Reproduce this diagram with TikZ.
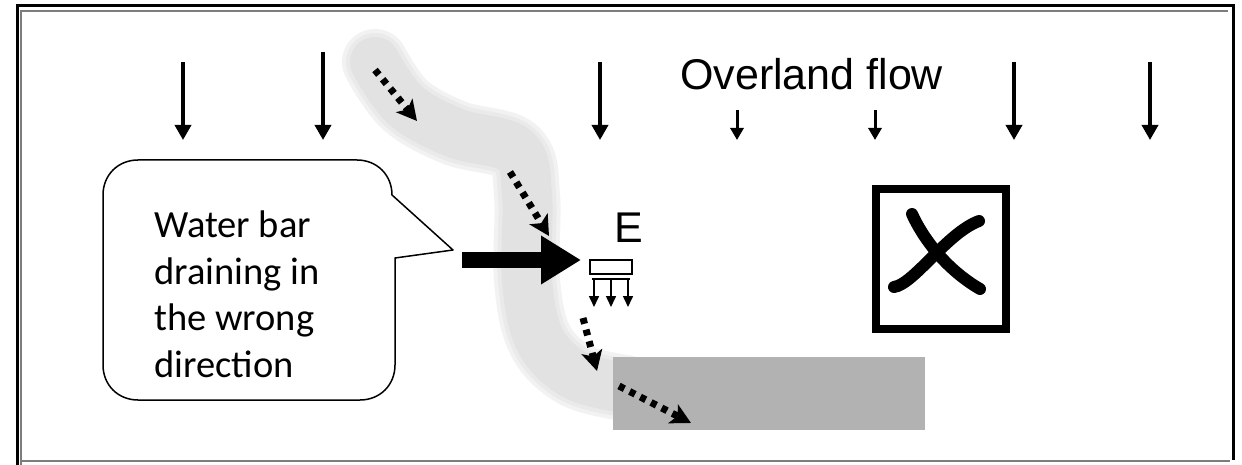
\documentclass[tikz,border=0pt]{standalone}
\usepackage{fontspec}
\setmainfont{Liberation Sans}
\newfontfamily\calloutfont{Carlito}
\usetikzlibrary{arrows.meta}

\definecolor{bandouter}{RGB}{242,242,242}
\definecolor{bandmid}{RGB}{234,234,234}
\definecolor{bandcore}{RGB}{226,226,226}
\definecolor{fieldgray}{RGB}{178,178,178}
\definecolor{framegray}{RGB}{125,125,125}

\begin{document}
\begin{tikzpicture}[x=1pt,y=-1pt,
  rain/.style={line width=3.5pt,-{Triangle[length=15pt,width=16pt]}},
  lightrain/.style={line width=3pt,-{Triangle[length=12pt,width=13pt]}},
  seep/.style={line width=7pt,dash pattern=on 6pt off 6pt,
    -{Stealth[length=20pt,width=21pt,inset=5pt]}},
  outlet/.style={line width=1.6pt,-{Triangle[length=11pt,width=10pt]}},
  push/.style={line width=16pt,-{Triangle[length=40pt,width=46pt]}},
  xstroke/.style={line width=12pt,line cap=round},
]
\useasboundingbox (0,0) rectangle (1242,465);

% page frame
\draw[line width=3pt] (17,465) -- (17,6) -- (1233,6) -- (1233,460);
\draw[framegray,line width=2pt] (21,465) -- (21,11) -- (1228,11);
\draw[framegray,line width=2.5pt] (21,461) -- (1230,461);

% drainage path across the slope
\foreach \w/\c in {66/bandouter,58/bandmid,50/bandcore}
  \draw[\c,line width=\w pt,line cap=round,line join=round]
    plot[smooth,tension=0.6] coordinates {(375,62) (405,105) (455,133)
      (515,150) (527,195) (527,280) (540,340) (575,375) (625,388)};

% ponding area
\node[fill=fieldgray,minimum width=312pt,minimum height=73pt,inner sep=0,
  anchor=north west] (pond) at (613,357) {};

% overland flow arrows
\foreach \n/\x/\ya in {1/183/62,2/323/52,3/600/62,4/1014/62,5/1150/62} {
  \coordinate (r\n a) at (\x,\ya);
  \coordinate (r\n b) at (\x,140);
  \draw[rain] (r\n a) -- (r\n b);
}
\foreach \n/\x in {6/737,7/875} {
  \coordinate (r\n a) at (\x,110);
  \coordinate (r\n b) at (\x,140);
  \draw[lightrain] (r\n a) -- (r\n b);
}
\node[anchor=base west,inner sep=0,font=\fontsize{43}{50}\selectfont]
  (title) at (680,90) {Overland flow};

% seepage along the drainage path
\coordinate (s1a) at (375,70);  \coordinate (s1b) at (417,121);
\coordinate (s2a) at (510,172); \coordinate (s2b) at (549,236);
\coordinate (s3a) at (583,318); \coordinate (s3b) at (597,371);
\coordinate (s4a) at (619,386); \coordinate (s4b) at (691,423);
\foreach \n in {1,2,3,4}
  \draw[seep] (s\n a) -- (s\n b);

% water bar E with its outlets
\node[draw,line width=1.6pt,minimum width=42pt,minimum height=14pt,inner sep=0]
  (bar) at (611,267) {};
\coordinate (barl) at (592,279);
\coordinate (barr) at (630,279);
\draw[line width=1.6pt] (barl) -- (barr);
\foreach \n/\x in {1/594,2/611,3/628} {
  \coordinate (o\n a) at (\x,279);
  \coordinate (o\n b) at (\x,307);
  \draw[outlet] (o\n a) -- (o\n b);
}
\node[anchor=base west,inner sep=0,font=\fontsize{43}{50}\selectfont]
  (E) at (614,242) {E};

% main flow into the water bar
\coordinate (pusha) at (462,260);
\coordinate (pushb) at (581,260);
\draw[push] (pusha) -- (pushb);

% callout (base anchor sits on the last line)
\node[anchor=base west,inner sep=0,align=left,
  font=\calloutfont\fontsize{38.5}{46.5}\selectfont]
  (note) at (154,377) {Water bar\\draining in\\the wrong\\direction};
\draw[line width=1.5pt,line join=round]
  (138,160) -- (357,160) .. controls (377,160) and (392,175) .. (392,195)
  -- (453,250) -- (395,258) -- (395,365)
  .. controls (395,385) and (380,400) .. (360,400) -- (138,400)
  .. controls (118,400) and (103,385) .. (103,365) -- (103,195)
  .. controls (103,175) and (118,160) .. (138,160) -- cycle;

% rejected option box
\node[draw,line width=8pt,minimum width=130pt,minimum height=140pt,inner sep=0]
  (nogo) at (941,259) {};
\draw[xstroke] (912,214) .. controls (922,236) and (944,268) .. (980,289);
\draw[xstroke] (894,287) .. controls (914,284) and (947,233) .. (979,221);
\end{tikzpicture}
\end{document}
